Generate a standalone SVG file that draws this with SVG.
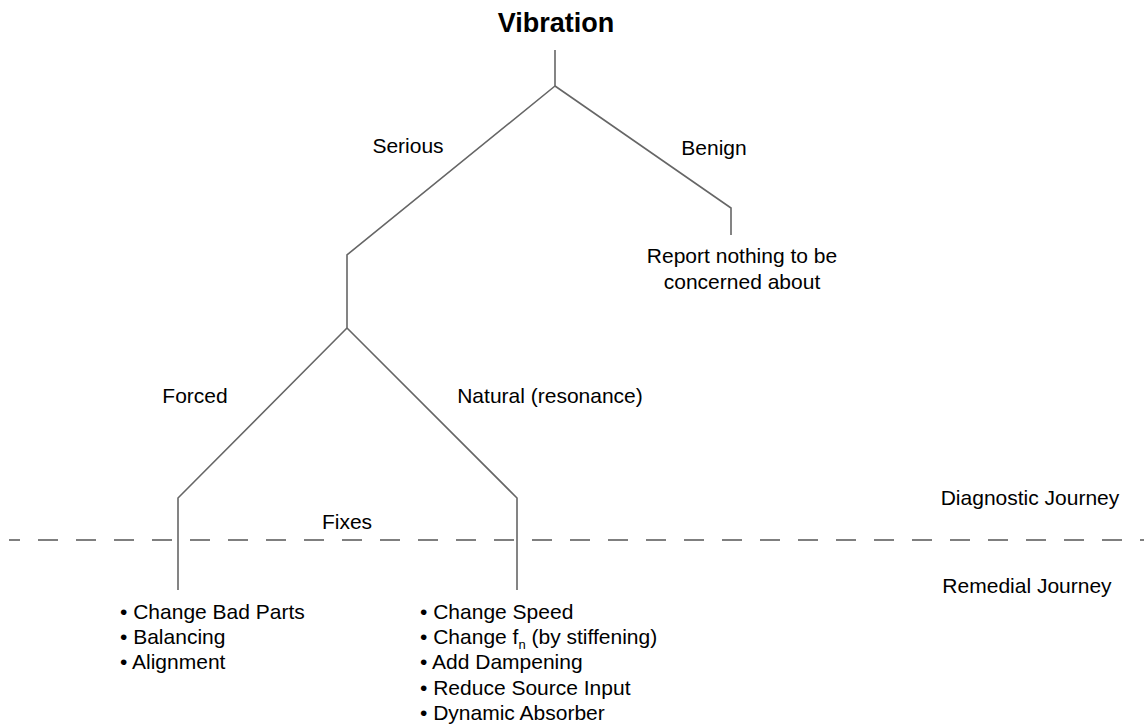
<svg xmlns="http://www.w3.org/2000/svg" width="1144" height="728" viewBox="0 0 1144 728">
<style>
.t{font-family:"Liberation Sans",Arial,sans-serif;font-size:21px;fill:#000}
.b{font-family:"Liberation Sans",Arial,sans-serif;font-size:27px;font-weight:bold;fill:#000}
.ln{fill:none;stroke:#666;stroke-width:1.6}
.dash{fill:none;stroke:#555;stroke-width:1.6;stroke-dasharray:20 18;stroke-dashoffset:9}
</style>
<rect width="1144" height="728" fill="#fff"/>
<g id="connectors">
<polyline class="ln" points="555,50 555,86"/>
<polyline class="ln" points="555,86 347,255 347,328"/>
<polyline class="ln" points="555,86 731,208 731,235"/>
<polyline class="ln" points="347,328 178,498 178,590"/>
<polyline class="ln" points="347,328 517,498 517,590"/>
<line class="dash" x1="9" y1="540" x2="1144" y2="540"/>
</g>
<g id="vibration"><text class="b" x="556" y="32" text-anchor="middle">Vibration</text></g>
<g id="serious"><text class="t" x="408" y="153" text-anchor="middle">Serious</text></g>
<g id="benign"><text class="t" x="714" y="155" text-anchor="middle">Benign</text></g>
<g id="report"><text class="t" text-anchor="middle"><tspan x="742" y="263">Report nothing to be</tspan><tspan x="742" y="289">concerned about</tspan></text></g>
<g id="forced"><text class="t" x="195" y="403" text-anchor="middle">Forced</text></g>
<g id="natural"><text class="t" x="550" y="403" text-anchor="middle">Natural (resonance)</text></g>
<g id="fixes"><text class="t" x="347" y="529" text-anchor="middle">Fixes</text></g>
<g id="diagnostic"><text class="t" x="1030" y="505" text-anchor="middle">Diagnostic Journey</text></g>
<g id="remedial"><text class="t" x="1027" y="593" text-anchor="middle">Remedial Journey</text></g>
<g id="forced-fixes"><text class="t"><tspan x="120" y="619">• Change Bad Parts</tspan><tspan x="120" y="644">• Balancing</tspan><tspan x="120" y="669">• Alignment</tspan></text></g>
<g id="natural-fixes"><text class="t"><tspan x="420" y="619">• Change Speed</tspan><tspan x="420" y="644">• Change f</tspan><tspan font-size="13" dy="5">n</tspan><tspan dy="-5"> (by stiffening)</tspan><tspan x="420" y="669">• Add Dampening</tspan><tspan x="420" y="695">• Reduce Source Input</tspan><tspan x="420" y="720">• Dynamic Absorber</tspan></text></g>
</svg>
